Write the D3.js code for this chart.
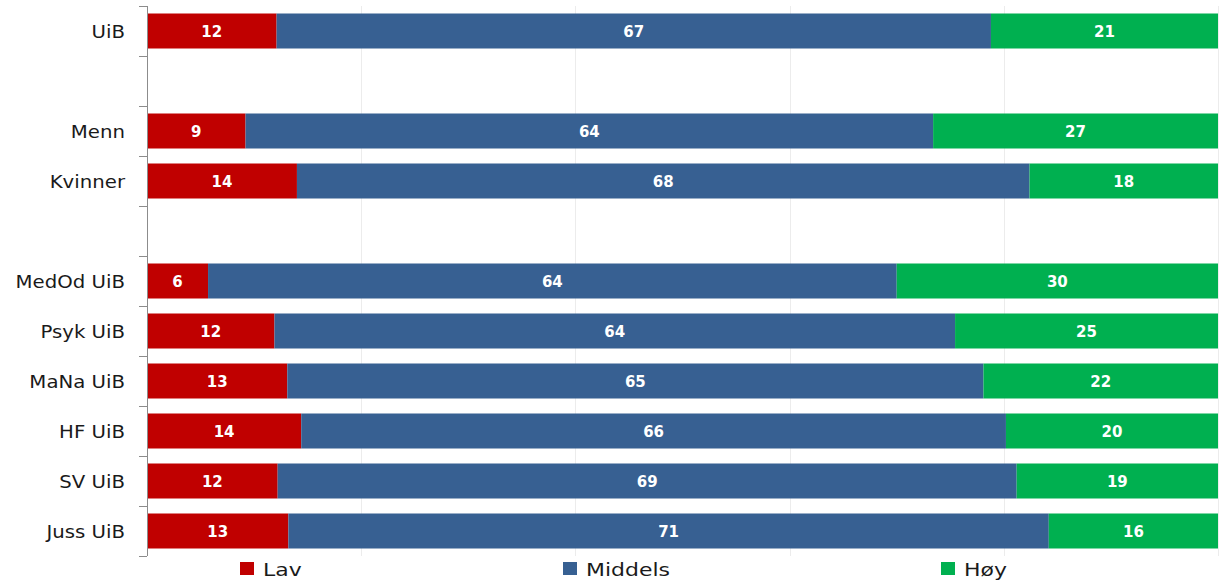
<!DOCTYPE html>
<html>
<head>
<meta charset="utf-8">
<script src="https://d3js.org/d3.v7.min.js"></script>
<style>
  html, body { margin: 0; padding: 0; background: #fff; }
  svg { display: block; }
</style>
</head>
<body>
<svg id="chart" width="1224" height="584"></svg>
<script>
// Data (percent shares, labels shown rounded)
const categories = ["UiB", "", "Menn", "Kvinner", "", "MedOd UiB", "Psyk UiB", "MaNa UiB", "HF UiB", "SV UiB", "Juss UiB"];
const seriesNames = ["Lav", "Middels", "Høy"];
const lav     = [12.1, null, 9.2, 14.0, null, 5.7, 11.9, 13.1, 14.4, 12.2, 13.2];
const middels = [66.7, null, 64.2, 68.4, null, 64.3, 63.55, 65.0, 65.8, 69.0, 71.0];
const hoy     = [21.2, null, 26.6, 17.6, null, 30.0, 24.55, 21.9, 19.8, 18.8, 15.8];
const xTicks  = [0, 20, 40, 60, 80, 100];
const colors  = ["#c00000", "#376092", "#00b050"];

const svg = d3.select("#chart");
const mLeft = 147, mRight = 1218, mTop = 6, mBottom = 556;

const x = d3.scaleLinear().domain([0, 100]).range([mLeft, mRight]);
const y = d3.scaleBand().domain(d3.range(categories.length)).range([mTop, mBottom])
  .paddingInner(0.3).paddingOuter(0.15);

// gridlines
svg.append("g").selectAll("line").data(xTicks.slice(1)).join("line")
  .attr("x1", d => Math.round(x(d)) + 0.5).attr("x2", d => Math.round(x(d)) + 0.5)
  .attr("y1", mTop).attr("y2", mBottom)
  .attr("stroke", "#ececec").attr("stroke-width", 1);

// stacked data
const rows = categories.map((c, i) => ({i, c, vals: [lav[i], middels[i], hoy[i]]}));
const segs = [];
rows.forEach(r => {
  if (r.vals[0] == null) return;
  let acc = 0;
  r.vals.forEach((v, k) => { segs.push({i: r.i, k, x0: acc, x1: acc + v, v}); acc += v; });
});

svg.append("g").selectAll("rect").data(segs).join("rect")
  .attr("x", d => x(d.x0)).attr("width", d => x(d.x1) - x(d.x0))
  .attr("y", d => y(d.i)).attr("height", y.bandwidth())
  .attr("fill", d => colors[d.k]);

svg.append("g").selectAll("text").data(segs).join("text")
  .attr("x", d => (x(d.x0) + x(d.x1)) / 2)
  .attr("y", d => y(d.i) + y.bandwidth() / 2 + 5.5)
  .attr("text-anchor", "middle")
  .attr("font-family", "'DejaVu Sans', Verdana, sans-serif")
  .attr("font-weight", "bold")
  .attr("font-size", 15)
  .attr("fill", "#fff")
  .text(d => d3.format(".0f")(d.v));

// y axis
const yAxis = d3.axisLeft(y).tickSize(0).tickFormat("");
const ag = svg.append("g").attr("transform", `translate(${mLeft + 0.5},0)`).call(yAxis);
ag.select(".domain").attr("stroke", "#8c8c8c").attr("d", `M0,${mTop}V${mBottom}`);
// boundary ticks
const bounds = d3.range(categories.length + 1).map(i => mTop + i * y.step());
svg.append("g").selectAll("line").data(bounds).join("line")
  .attr("x1", mLeft - 8).attr("x2", mLeft).attr("y1", d => Math.round(d) + 0.5).attr("y2", d => Math.round(d) + 0.5)
  .attr("stroke", "#8c8c8c");

// category labels
svg.append("g").selectAll("text").data(rows.filter(r => r.c !== "")).join("text")
  .attr("transform", d => `translate(125,${y(d.i) + y.bandwidth() / 2 + 7}) scale(1.16,1)`)
  .attr("text-anchor", "end")
  .attr("font-family", "'DejaVu Sans', Verdana, sans-serif")
  .attr("font-size", 17)
  .attr("fill", "#1a1a1a")
  .text(d => d.c);

// legend
const legendX = [240, 563, 941];
const lg = svg.append("g").selectAll("g").data(seriesNames).join("g")
  .attr("transform", (d, i) => `translate(${legendX[i]},0)`);
lg.append("rect").attr("x", 0).attr("y", 562).attr("width", 14).attr("height", 13)
  .attr("fill", (d, i) => colors[i]);
lg.append("text")
  .attr("transform", "translate(23,576) scale(1.22,1)")
  .attr("font-family", "'DejaVu Sans', Verdana, sans-serif")
  .attr("font-size", 18)
  .attr("fill", "#1a1a1a")
  .text(d => d);
</script>
</body>
</html>
